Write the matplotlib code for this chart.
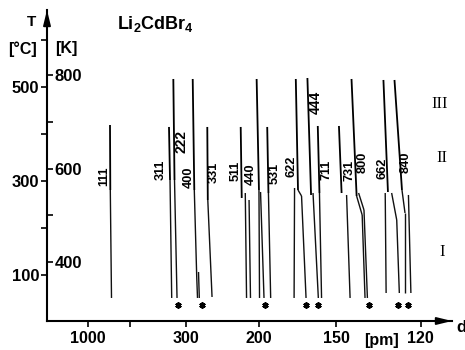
import numpy as np
import matplotlib
matplotlib.use("Agg")
import matplotlib.pyplot as plt
from matplotlib.ticker import NullLocator

plt.rcParams['font.family'] = ['Liberation Sans', 'DejaVu Sans']
plt.rcParams['mathtext.fontset'] = 'custom'
plt.rcParams['mathtext.bf'] = 'Liberation Sans:bold'
plt.rcParams['mathtext.rm'] = 'Liberation Sans'

# ---------------- data (d in pm, T in deg C) ----------------
# upper parts of the reflection lines (phases III / II), top -> transition
hi_hkl = ['111', '311', '222', '400', '331', '511', '440', '531',
          '622', '444', '711', '731', '800', '662', '840']
hi_d_top = [656.7, 341.4, 329.9, 286.9, 261.5, 217.9, 202.1, 192.9,
            172.1, 165.0, 159.2, 148.7, 143.2, 131.2, 127.6]
hi_T_top = [419.6, 415.4, 517.7, 517.7, 415.4, 415.4, 517.7, 415.4,
            517.7, 519.8, 417.5, 417.5, 517.7, 515.6, 515.6]
hi_d_bot = [653.6, 338.6, 326.9, 283.9, 260.7, 216.8, 200.0, 191.9,
            170.7, 162.9, 158.3, 147.5, 141.1, 129.7, 125.3]
hi_T_bot = [281.0, 302.3, 302.3, 281.0, 259.7, 264.0, 281.0, 274.6,
            281.0, 270.4, 274.6, 274.6, 268.2, 276.8, 281.0]

# phase I line pieces (segments)
lo_d_top = [653.6, 338.6, 326.9, 283.9, 279.4, 276.2, 260.7, 213.1, 209.3,
            200.0, 198.6, 191.9, 172.9, 170.7, 168.5, 161.8, 158.3, 145.3,
            141.1, 138.9, 140.3, 138.2, 130.6, 128.5, 126.9, 125.3, 124.4, 123.4]
lo_T_top = [281.0, 302.3, 302.3, 281.0, 95.5, 106.2, 259.7, 274.6, 259.7,
            281.0, 276.8, 274.6, 285.3, 281.0, 268.2, 274.6, 274.6, 270.4,
            268.2, 227.7, 274.6, 238.4, 274.6, 274.6, 217.1, 281.0, 232.0, 270.4]
lo_d_bot = [641.5, 334.1, 320.7, 279.4, 278.0, 274.8, 254.2, 211.8, 207.9,
            199.5, 195.6, 190.1, 173.2, 168.5, 165.8, 158.9, 157.2, 143.8,
            138.9, 137.8, 138.2, 136.9, 130.3, 126.9, 126.1, 124.4, 124.4, 122.7]
lo_T_bot = [50.8, 50.8, 50.8, 95.5, 50.8, 50.8, 52.9, 50.8, 50.8,
            50.8, 50.8, 50.8, 50.8, 268.2, 50.8, 50.8, 50.8, 50.8,
            227.7, 50.8, 238.4, 50.8, 61.4, 217.1, 61.4, 232.0, 61.4, 61.4]

# marked (*) lines
star_d = [318.3, 270.6, 194.8, 165.8, 158.9, 136.2, 126.4, 123.4]
star_T = [35, 35, 35, 35, 35, 35, 35, 35]

# hkl labels
lab_text = ['111', '311', '222', '400', '331', '511', '440', '531',
            '622', '444', '711', '731', '800', '662', '840']
lab_d = [719.1, 364.9, 310.2, 295.2, 251.3, 223.6, 207.4, 186.7,
         175.2, 160.2, 154.9, 144.2, 138.8, 131.5, 124.1]
lab_T = [310.9, 323.7, 383.4, 308.7, 319.4, 321.5, 315.1, 317.3,
         332.2, 468.7, 323.7, 323.7, 340.7, 327.9, 340.7]

xticks_d = [1000, 500, 300, 200, 150, 120]
xtick_labels = ['1000', '', '300', '200', '150', '120']
yticks_C = [100, 200, 300, 400, 500, 600]
ytick_C_labels = ['100', '', '300', '', '500', '']
yticks_K = [400, 500, 600, 700, 800]
ytick_K_labels = ['400', '', '600', '', '800']
phase_labels = ['III', 'II', 'I']

# ---------------- scale: Guinier film position (theta) ----------------
LAM_HALF = 77.03  # Cu K-alpha1 / 2 in pm


def d2theta(d):
    d = np.asarray(d, dtype=float)
    with np.errstate(divide='ignore', invalid='ignore'):
        s = np.clip(LAM_HALF / d, -1.0, 1.0)
        s = np.where(np.isfinite(s), s, 1.0)
    return np.degrees(np.arcsin(s))


def theta2d(t):
    t = np.asarray(t, dtype=float)
    with np.errstate(divide='ignore', invalid='ignore'):
        return LAM_HALF / np.sin(np.radians(np.clip(t, 1e-6, 89.9)))


W, H = 465, 350
fig = plt.figure(figsize=(W / 100, H / 100), dpi=100)


def fx(x):
    return x / W


def fy(y):
    return 1 - y / H


ax = fig.add_axes([47 / W, (H - 321) / H, (452 - 47) / W, (321 - 10) / H])
ax.set_xscale('function', functions=(d2theta, theta2d))

for d0, t0, d1, t1 in zip(hi_d_top, hi_T_top, hi_d_bot, hi_T_bot):
    ax.plot([d0, d1], [t0, t1], color='black', lw=1.3, solid_capstyle='butt')
for d0, t0, d1, t1 in zip(lo_d_top, lo_T_top, lo_d_bot, lo_T_bot):
    ax.plot([d0, d1], [t0, t1], color='#111111', lw=1.0, solid_capstyle='butt')

ax.plot(star_d, star_T, linestyle='none', marker=(6, 2, 0), ms=4.5,
        mew=1.3, color='black')

for t, d, T in zip(lab_text, lab_d, lab_T):
    big = t in ('222', '444')
    ax.text(d, T, t, rotation=90, ha='center', va='center',
            fontsize=10 if big else 9.2, fontweight='bold')

# decreasing function scale: give limits in increasing-d order
ax.set_xlim(112.36, 1.0e6)
ax.set_ylim(1.7, 664.8)

for s in ['top', 'right']:
    ax.spines[s].set_visible(False)
for s in ['left', 'bottom']:
    ax.spines[s].set_linewidth(1.5)

ax.set_xticks(xticks_d)
ax.set_xticklabels(xtick_labels)
ax.xaxis.set_minor_locator(NullLocator())
ax.set_yticks(yticks_C)
ax.set_yticklabels(ytick_C_labels)
ax.yaxis.set_minor_locator(NullLocator())
ax.tick_params(axis='x', direction='out', length=4.5, width=1.2, pad=3,
               labelsize=11.5)
ax.tick_params(axis='y', direction='out', length=4, width=1.2, pad=1.5,
               labelsize=12)
for lbl in ax.get_xticklabels() + ax.get_yticklabels():
    lbl.set_fontweight('bold')

ax2 = ax.twinx()
ax2.set_ylim(1.7 + 273.15, 664.8 + 273.15)
for s in ['top', 'left', 'bottom']:
    ax2.spines[s].set_visible(False)
ax2.spines['right'].set_position(('axes', 0.0))
ax2.spines['right'].set_visible(False)
ax2.set_yticks(yticks_K)
ax2.set_yticklabels(ytick_K_labels)
ax2.yaxis.set_minor_locator(NullLocator())
ax2.tick_params(axis='y', direction='out', length=4, width=1.2, pad=1.5,
                labelsize=12)
for lbl in ax2.get_yticklabels():
    lbl.set_fontweight('bold')

# axis arrows
arr = dict(arrowstyle='-|>,head_length=0.9,head_width=0.22', color='black',
           lw=1.3, shrinkA=0, shrinkB=0, mutation_scale=10)
ax.annotate('', xy=(0, 1.0), xycoords='axes fraction', xytext=(0, 0.93),
            textcoords='axes fraction', arrowprops=arr)
ax.annotate('', xy=(1.0, 0), xycoords='axes fraction', xytext=(0.95, 0),
            textcoords='axes fraction', arrowprops=arr)

# annotations
fig.text(fx(31), fy(22.5), 'T', ha='center', va='center', fontsize=11,
         fontweight='bold')
fig.text(fx(22.5), fy(49), '[°C]', ha='center', va='center', fontsize=11.5,
         fontweight='bold')
fig.text(fx(66.5), fy(49), '[K]', ha='center', va='center', fontsize=11.5,
         fontweight='bold')
fig.text(fx(117), fy(28.5), r'$\mathbf{Li_2CdBr_4}$', ha='left',
         va='baseline', fontsize=13)
fig.text(fx(381), fy(340), '[pm]', ha='center', va='center', fontsize=11.5,
         fontweight='bold')
fig.text(fx(456), fy(327), 'd', ha='left', va='center', fontsize=12,
         fontweight='bold')
for txt, (x, y) in zip(phase_labels, [(439.5, 104), (442, 158), (442.5, 252)]):
    fig.text(fx(x), fy(y), txt, ha='center', va='center', fontsize=12,
             family='Liberation Serif')

fig.savefig('out.png', dpi=100)
